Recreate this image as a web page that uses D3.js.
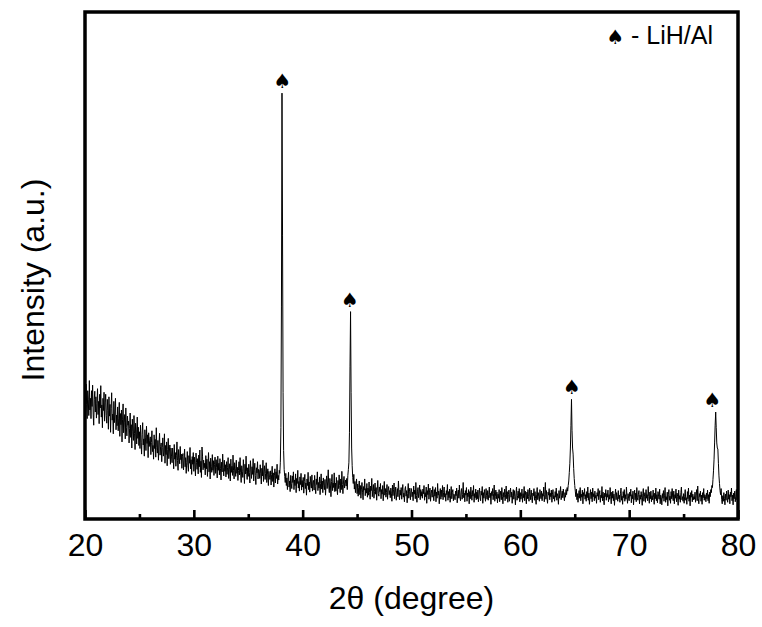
<!DOCTYPE html>
<html><head><meta charset="utf-8">
<script src="https://cdn.jsdelivr.net/npm/d3@7"></script>
<style>body{margin:0;background:#fff} svg{display:block}</style>
</head><body>
<svg id="c" width="762" height="627"></svg>
<script>
// Sampling grid of the pattern (2θ, degrees)
const angleStart = 20, angleStep = 0.05;
// Intensity (a.u.), one row per degree (20 samples each) 20.00 .. 79.95, then 80.00
const intensity = [
250,213,266,226,198,253,235,204,273,215,238,198,253,222,264,207,185,236,252,211,
241,199,228,257,206,232,188,246,219,263,201,225,180,238,214,250,193,229,246,204,
189,236,214,177,241,203,226,171,218,249,195,207,168,232,190,213,238,176,205,184,
221,174,199,230,163,208,186,215,152,197,227,170,191,206,158,219,180,164,203,185,
193,150,178,209,161,186,140,197,172,155,204,168,137,189,176,148,201,159,181,145,
172,139,185,151,128,167,190,146,158,124,176,160,135,183,149,166,121,170,143,155,
162,127,151,174,133,145,118,166,139,157,122,180,141,130,155,116,148,169,126,143,
150,113,141,160,124,132,168,110,145,127,152,105,137,159,119,134,146,108,140,124,
111,140,122,99,147,118,131,104,126,152,115,96,137,121,109,143,117,128,100,124,
129,97,116,138,103,121,90,112,133,106,94,125,110,141,99,117,88,123,108,131,
94,122,107,85,130,111,98,119,89,126,103,136,92,114,82,142,124,97,116,101,
110,87,125,99,118,84,106,131,93,113,79,120,104,92,127,96,115,86,108,122,
90,117,101,81,124,96,110,87,119,99,77,112,93,128,102,85,116,94,107,83,
113,88,101,121,80,97,109,75,118,92,104,86,126,95,79,111,99,84,116,90,
102,76,96,113,87,121,91,72,105,94,82,117,99,70,108,89,124,93,78,101,
84,108,92,71,115,97,80,103,88,119,75,95,110,86,68,101,91,113,79,98,
96,80,107,89,69,100,85,116,74,93,105,78,90,111,72,87,99,66,94,82,
78,95,67,88,104,74,91,63,85,99,71,93,80,108,69,86,77,96,90,112,
180,420,840,560,250,135,98,84,72,90,66,81,58,77,92,63,75,54,86,70,
60,85,72,93,58,77,66,89,52,80,70,96,61,74,55,83,68,90,57,76,
63,82,51,74,88,60,71,47,79,66,92,58,73,53,84,69,61,87,55,72,
76,57,86,64,50,79,68,93,56,72,61,83,48,70,89,59,75,52,81,66,
58,78,47,69,85,60,73,97,63,52,80,67,44,74,88,56,71,62,91,54,
71,55,82,63,48,76,60,87,66,52,79,58,94,68,50,73,84,61,70,77,
65,80,58,86,98,112,170,300,409,250,140,105,82,70,88,59,74,52,67,79,
50,69,45,62,75,48,66,41,59,72,53,38,64,57,79,46,60,51,70,43,
61,47,73,52,39,65,56,80,44,58,68,41,54,71,49,62,37,57,76,50,
45,63,54,70,40,58,49,66,36,55,74,47,60,43,52,68,39,57,64,48,
56,42,61,51,35,67,46,58,71,40,53,63,37,49,60,44,75,52,38,57,
47,62,39,55,68,43,51,34,59,64,45,56,32,50,70,41,54,61,38,53,
60,44,53,36,65,49,57,40,72,46,33,55,62,42,51,67,38,58,45,54,
41,59,50,66,37,52,44,63,31,56,48,69,39,53,61,35,50,57,43,64,
49,36,58,45,62,34,53,41,70,47,55,30,51,60,39,57,44,66,38,52,
63,43,50,35,56,48,68,37,54,42,59,33,47,64,40,52,58,36,49,45,
38,55,46,61,32,50,57,41,67,44,36,53,60,39,48,72,42,51,34,56,
47,62,35,51,44,58,30,54,40,63,49,37,56,45,66,33,50,42,59,38,
53,40,57,34,49,61,43,36,55,47,64,31,52,41,58,45,35,60,46,39,
56,37,48,63,42,51,29,54,46,60,38,50,67,35,44,57,40,53,32,49,
41,58,34,47,55,38,62,45,30,52,43,59,36,49,65,40,54,33,48,57,
35,50,61,43,53,31,47,58,39,56,44,28,51,63,37,46,55,41,60,34,
52,39,45,59,33,50,42,64,36,55,47,30,53,40,58,44,35,61,48,38,
57,43,32,51,46,60,37,54,41,29,49,62,38,52,44,35,58,47,40,55,
36,50,45,63,34,48,72,39,56,42,31,53,47,60,38,51,44,57,33,49,
58,40,46,35,54,43,61,37,50,44,29,56,41,52,64,38,47,55,42,59,
45,36,52,43,58,48,62,55,66,75,92,110,140,185,236,175,140,128,100,80,
66,55,44,59,38,50,33,47,56,41,62,36,49,43,57,30,52,45,60,39,
48,35,54,42,63,37,51,29,46,58,40,53,34,61,44,50,36,55,41,47,
31,52,45,60,38,49,56,33,47,42,64,36,53,40,28,51,44,58,37,50,
43,57,34,48,39,62,45,30,53,41,55,36,49,27,46,59,38,52,44,35,
56,40,47,33,51,61,37,45,29,54,42,58,35,48,39,63,44,31,50,41,
36,53,45,59,32,48,40,55,28,46,57,38,51,34,62,43,37,49,56,30,
47,39,54,42,27,50,60,35,45,52,33,58,41,48,36,64,44,31,53,40,
55,34,46,38,57,43,29,51,40,61,36,48,32,54,45,39,59,30,47,42,
28,50,41,56,35,47,62,33,44,38,53,26,49,58,37,45,31,54,40,60,
43,36,55,30,48,41,59,34,51,45,27,57,39,46,33,52,63,38,44,35,
50,31,45,58,37,42,29,54,40,61,35,47,26,52,43,56,34,49,38,44,
39,53,33,46,58,36,65,41,30,50,44,55,35,47,29,52,42,60,37,48,
45,34,51,40,57,36,48,31,53,44,58,52,66,62,78,95,118,150,185,211,
180,150,140,138,110,85,70,56,48,60,38,30,46,35,52,41,28,49,37,55,
42,33,57,39,48,30,53,44,61,36,47,28,51,40,55,34,45,58,38,43,
46
];
const xTicks = [20, 30, 40, 50, 60, 70, 80];
const xMinorTicks = [25, 35, 45, 55, 65, 75];
const peakMarkerAngles = [38.15, 44.35, 64.75, 77.65];
const peakMarkerIntensity = [840, 409, 236, 211];
const legendLabel = "- LiH/Al";
const xTitle = "2θ (degree)";
const yTitle = "Intensity (a.u.)";

const svg = d3.select("#c");
const pLeft = 85, pRight = 738, pTop = 12, pBottom = 519;
const x = d3.scaleLinear().domain([20, 80]).range([pLeft, pRight]);
const y = d3.scaleLinear().domain([0, 1000]).range([pBottom, pTop]);
const font = "'Liberation Sans', Arial, Helvetica, sans-serif";

const pts = intensity.map((v, i) => [angleStart + i * angleStep, v]);
svg.append("path")
  .datum(pts)
  .attr("fill", "none")
  .attr("stroke", "#000")
  .attr("stroke-width", 1)
  .attr("stroke-linejoin", "round")
  .attr("d", d3.line().x(d => x(d[0])).y(d => y(d[1])));

// peak markers
svg.selectAll("text.mk").data(peakMarkerAngles).join("text")
  .attr("class", "mk")
  .attr("x", d => x(d))
  .attr("y", (d, i) => y(peakMarkerIntensity[i]) - 5)
  .attr("text-anchor", "middle")
  .attr("font-family", "'DejaVu Sans', sans-serif")
  .attr("font-size", 20)
  .text("♠");

// axis ticks (inward)
const axis = d3.axisBottom(x).tickValues(xTicks).tickSizeInner(-9).tickSizeOuter(0).tickFormat(d3.format("d"));
const gx = svg.append("g").attr("transform", `translate(0,${pBottom})`).call(axis);
gx.select(".domain").remove();
gx.selectAll(".tick line").attr("stroke-width", 2.6).attr("stroke", "#000");
gx.selectAll(".tick text").attr("y", 37).attr("dy", 0)
  .attr("font-family", font).attr("font-size", 32).attr("fill", "#000");
const axisMinor = d3.axisBottom(x).tickValues(xMinorTicks).tickSizeInner(-5).tickSizeOuter(0).tickFormat("");
const gm = svg.append("g").attr("transform", `translate(0,${pBottom})`).call(axisMinor);
gm.select(".domain").remove();
gm.selectAll(".tick line").attr("stroke-width", 2.6).attr("stroke", "#000");

// frame
svg.append("rect")
  .attr("x", pLeft).attr("y", pTop)
  .attr("width", pRight - pLeft).attr("height", pBottom - pTop)
  .attr("fill", "none").attr("stroke", "#000").attr("stroke-width", 3.5);

// titles
svg.append("text").attr("x", (pLeft + pRight) / 2).attr("y", 609)
  .attr("text-anchor", "middle").attr("font-family", font).attr("font-size", 32)
  .text(xTitle);
svg.append("text").attr("transform", "translate(44,280) rotate(-90)")
  .attr("text-anchor", "middle").attr("font-family", font).attr("font-size", 32)
  .text(yTitle);

// legend
svg.append("text").attr("x", 615.5).attr("y", 44)
  .attr("text-anchor", "middle").attr("font-family", "'DejaVu Sans', sans-serif")
  .attr("font-size", 20).text("♠");
svg.append("text").attr("x", 631).attr("y", 44)
  .attr("font-family", font).attr("font-size", 25).text(legendLabel);
</script>
</body></html>
